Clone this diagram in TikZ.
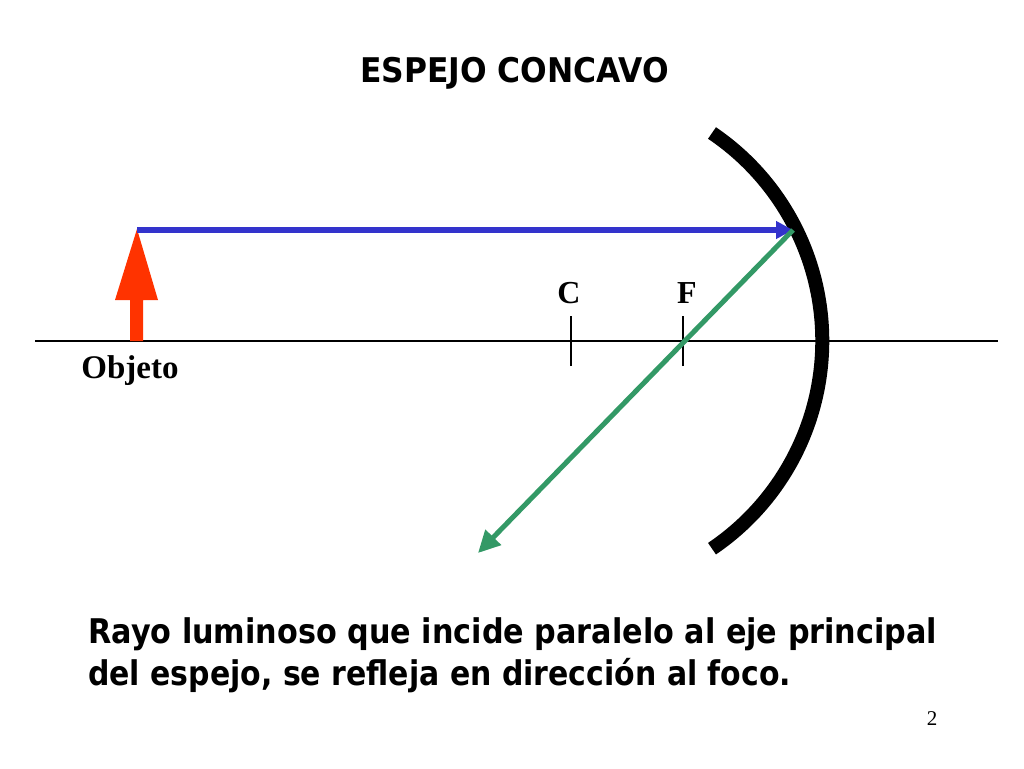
\documentclass[tikz,border=0pt]{standalone}
\usepackage{fontspec}
\usepackage{graphicx}
\setmainfont{Liberation Serif}
\newfontfamily\tahoma{DejaVu Sans}
\usetikzlibrary{arrows.meta}
\definecolor{objred}{HTML}{FF3300}
\definecolor{rayblue}{HTML}{3333CC}
\definecolor{raygreen}{HTML}{339966}
\begin{document}
\begin{tikzpicture}[x=1pt,y=-1pt,
  sanslabel/.style={inner sep=0pt,anchor=base west,font=\tahoma\bfseries\fontsize{34}{40}\selectfont},
  seriflabel/.style={inner sep=0pt,anchor=base,font=\bfseries\fontsize{32}{36}\selectfont},
  axisline/.style={line width=1.3pt,black},
  ticks/.style={line width=1.3pt,black},
  mirror/.style={line width=14pt,black,line cap=butt},
  blueray/.style={line width=5.5pt,rayblue,-{Triangle[length=17pt,width=17pt]}},
  greenray/.style={line width=5pt,raygreen,-{Triangle[length=22pt,width=21pt]}}]
\fill[white] (0,0) rectangle (1024,768);
\useasboundingbox (0,0) rectangle (1024,768);
% title
\node[sanslabel] (title) at (360,82) {\resizebox{309pt}{\height}{ESPEJO CONCAVO}};
% principal axis
\coordinate (axL) at (35,341);
\coordinate (axR) at (998,341);
\draw[axisline] (axL) -- (axR);
% C and F
\coordinate (C) at (571,341);
\coordinate (F) at (683,341);
\draw[ticks] ([yshift=-25pt]C) -- ([yshift=25pt]C);
\draw[ticks] ([yshift=-25pt]F) -- ([yshift=25pt]F);
\node[seriflabel,font=\bfseries\fontsize{32}{36}\selectfont] (Clab) at (569,303) {C};
\node[seriflabel,font=\bfseries\fontsize{32}{36}\selectfont] (Flab) at (687,303) {F};
% mirror
\draw[mirror] (712,133) arc[start angle=55.9,end angle=-55.9,radius=251pt];
% object
\fill[objred] (130,341) -- (130,300) -- (115,300) -- (137,229) -- (158,300) -- (143,300) -- (143,341) -- cycle;
\coordinate (objtip) at (137,230);
\node[seriflabel,font=\bfseries\fontsize{33}{38}\selectfont] (obj) at (130,378) {Objeto};
% rays
\coordinate (hit) at (793,230);
\coordinate (gend) at (478,553);
\draw[blueray] (objtip) -- (hit);
\draw[greenray] (hit) -- (gend);
% caption
\node[sanslabel] (cap1) at (88,643) {\resizebox{849pt}{\height}{Rayo luminoso que incide paralelo al eje principal}};
\node[sanslabel] (cap2) at (88,685) {\resizebox{703pt}{\height}{del espejo, se refleja en dirección al foco.}};
% page number
\node[inner sep=0pt,anchor=base,font=\fontsize{21}{24}\selectfont] (pg) at (932,725) {2};
\end{tikzpicture}
\end{document}
